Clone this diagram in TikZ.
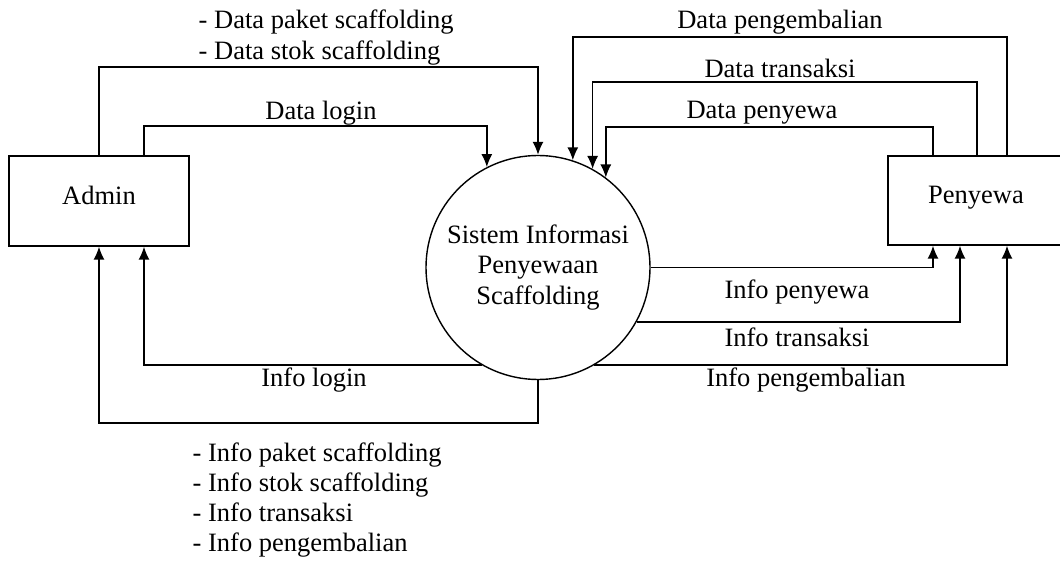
\documentclass[tikz,border=0pt]{standalone}
\usepackage{fontspec}
\setmainfont{Liberation Serif}
\usetikzlibrary{arrows.meta}
\begin{document}
\begin{tikzpicture}[x=1pt,y=-1pt,
  font=\fontsize{26.5}{30.5}\selectfont,
  line width=1.4pt,
  flow/.style={-{Latex[length=13pt,width=11pt]}},
  ent/.style={draw, rectangle, minimum width=180pt, minimum height=90pt, inner sep=0pt, text height=0.66em, text depth=0pt},
  proc/.style={draw, circle, minimum size=224pt, inner sep=0pt, align=center},
  lbl/.style={inner sep=0pt}]
\clip (0,0) rectangle (1060,561);
\fill[white] (0,0) rectangle (1060,561);
% entities
\node[ent] (admin) at (99,201) {Admin};
\node[ent, minimum width=176pt, minimum height=89pt] (penyewa) at (976,200.5) {Penyewa};
\node[proc] (c) at (538,267.5) {Sistem Informasi\\Penyewaan\\Scaffolding};
% helper levels
\coordinate (yA) at (0,67);
\coordinate (yB) at (0,126);
\coordinate (yP1) at (0,37);
\coordinate (yP2) at (0,82);
\coordinate (yP3) at (0,127);
\coordinate (yBot) at (0,423);
\coordinate (xA2) at (144,0);
\coordinate (xP1) at (933,0);
\coordinate (xP2) at (977,0);
\coordinate (xP3) at (1007,0);
\coordinate (xQ2) at (960,0);
% admin -> system
\draw[flow] (admin.north) |- (c.north |- yA) -- (c.north);
\draw[flow] (admin.north -| xA2) |- (c.117.67 |- yB) -- (c.117.67);
% penyewa -> system
\draw[flow] (penyewa.north -| xP3) |- (c.72.86 |- yP1) -- (c.72.86);
\draw[flow] (penyewa.north -| xP2) |- (c.61.76 |- yP2) -- (c.61.76);
\draw[flow] (penyewa.north -| xP1) |- (c.53.26 |- yP3) -- (c.53.26);
% system -> penyewa
\draw[flow] (c.east) -| (penyewa.south -| xP1);
\draw[flow] (c.331.8) -| (penyewa.south -| xQ2);
\draw[flow] (c.300) -| (penyewa.south -| xP3);
% system -> admin
\draw[flow] (c.240) -| (admin.south -| xA2);
\draw[flow] (c.south) -- (c.south |- yBot) -| (admin.south);
% labels
\node[lbl, anchor=west, align=left] (ldata) at (198,37.5) {- Data paket scaffolding\\- Data stok scaffolding};
\node[lbl] (llogin) at (321,113) {Data login};
\node[lbl] (lpk) at (780,22) {Data pengembalian};
\node[lbl] (ltr) at (780,68) {Data transaksi};
\node[lbl] (lpy) at (762,113) {Data penyewa};
\node[lbl] (lipy) at (797,292) {Info penyewa};
\node[lbl] (litr) at (797,337) {Info transaksi};
\node[lbl] (lipk) at (806,380) {Info pengembalian};
\node[lbl] (lilogin) at (314,380) {Info login};
\node[lbl, anchor=west, align=left, font=\fontsize{26.5}{30}\selectfont] (linfo) at (192,500) {- Info paket scaffolding\\- Info stok scaffolding\\- Info transaksi\\- Info pengembalian};
\end{tikzpicture}
\end{document}
